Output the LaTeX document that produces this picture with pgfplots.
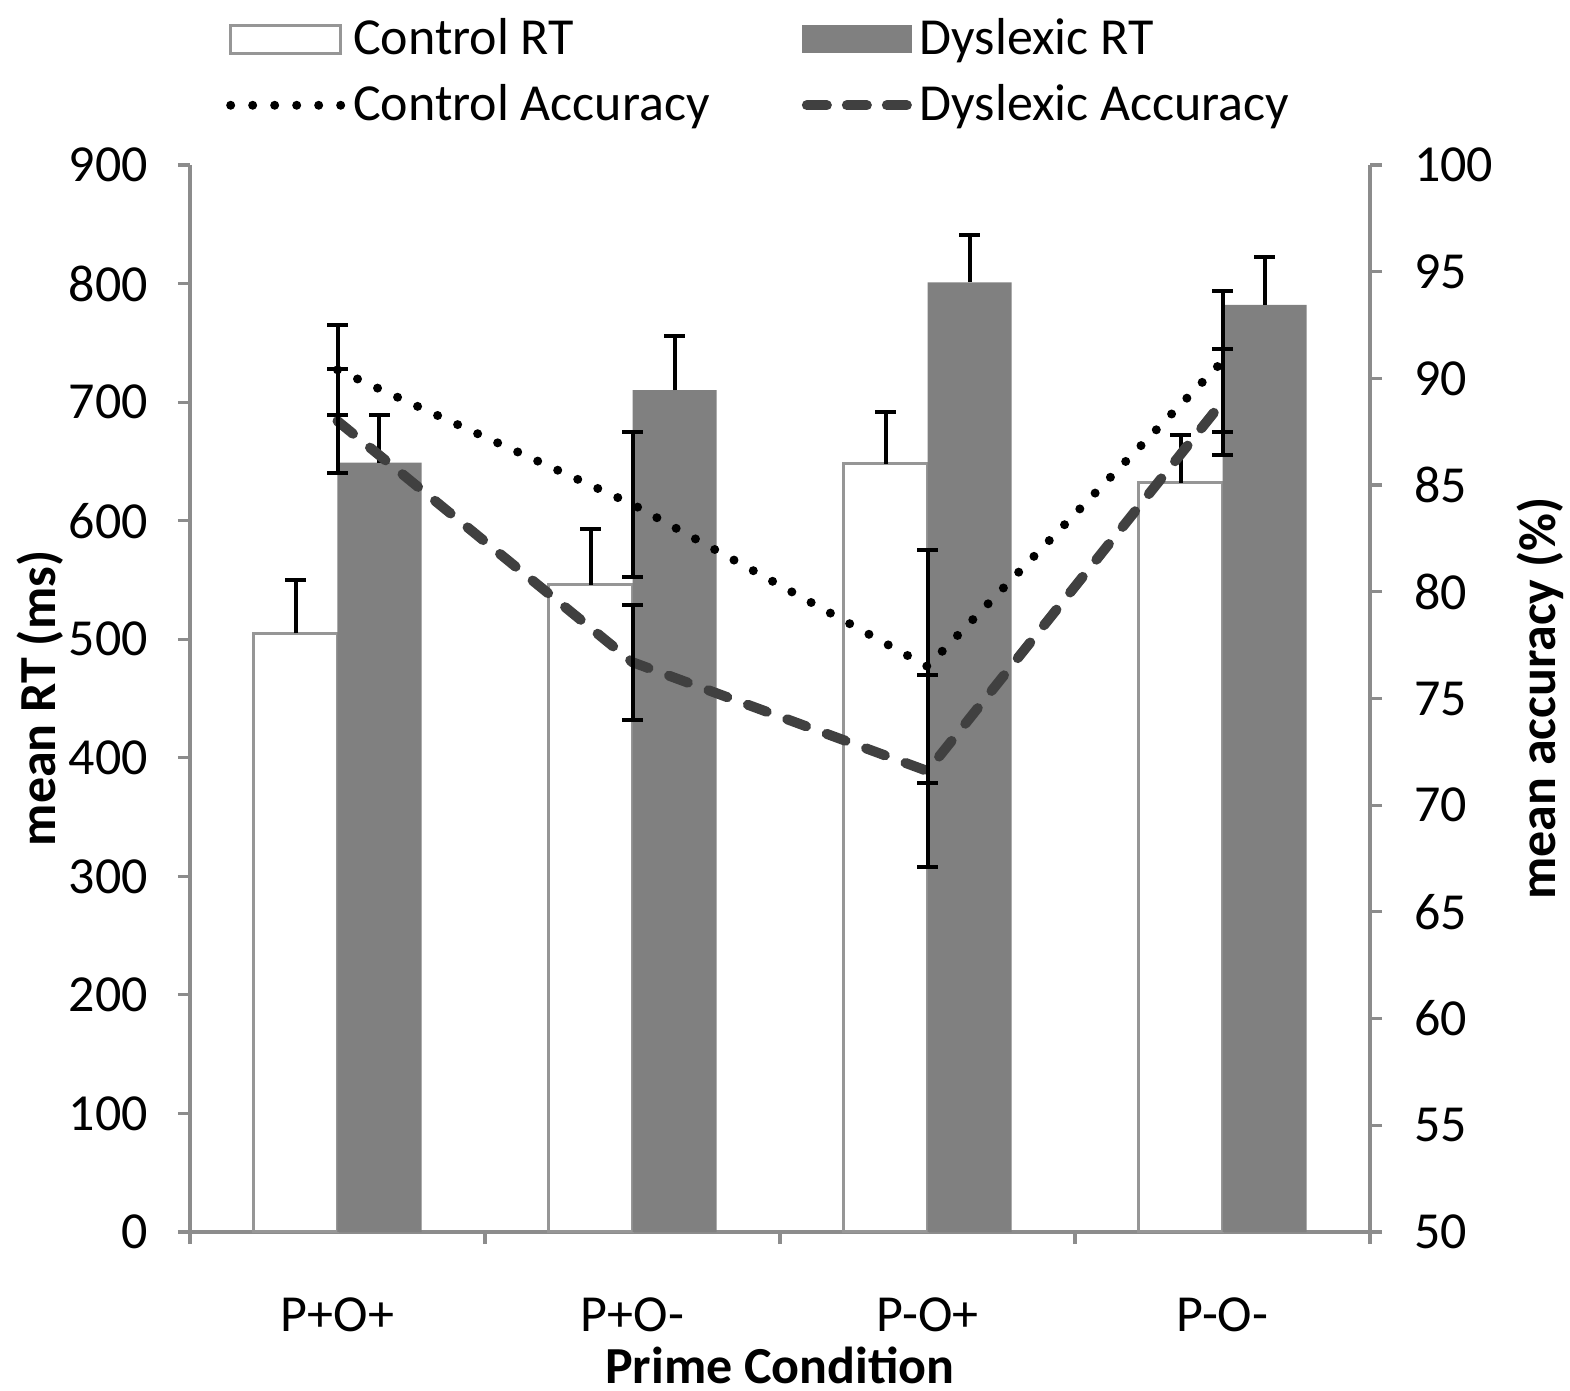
\documentclass[border=0pt]{standalone}
\usepackage{fontspec}
\setmainfont{Carlito}
\usepackage{pgfplots}
\usepackage{pgfplotstable}
\pgfplotsset{compat=1.18}

\definecolor{dysbar}{RGB}{128,128,128}
\definecolor{ctrledge}{RGB}{150,150,150}
\definecolor{dysline}{RGB}{64,64,64}
\definecolor{axgray}{RGB}{140,140,140}

\pgfplotstableread{
x rt err
0 505 45
1 546 47
2 648 44
3 632 40
}\ctrlrt
\pgfplotstableread{
x rt err
0 649 40
1 710 46
2 801 40
3 782 40
}\dysrt
\pgfplotstableread{
x acc err
0 90.4 2.1
1 84.1 3.4
2 76.5 5.45
3 90.8 3.3
}\ctrlacc
\pgfplotstableread{
x acc err
0 88.0 2.45
1 76.7 2.7
2 71.6 4.5
3 88.9 2.5
}\dysacc

\pgfplotsset{
  every axis/.append style={font=\fontsize{13}{15}\selectfont},
  commonax/.style={
    scale only axis, width=295pt, height=266.75pt,
    xmin=-0.5, xmax=3.5,
    axis line style={axgray, line width=0.8pt},
    tick style={axgray, line width=0.8pt},
    tick align=outside, major tick length=3pt,
    /pgf/number format/assume math mode=true,
    ticklabel style={font=\fontsize{13}{15}\selectfont},
  },
  errstyle/.style={
    /pgfplots/error bars/.cd, y dir=#1, y explicit,
    error bar style={solid, black, line width=1pt, line cap=butt},
    error mark options={solid, black, rotate=90, line width=1pt, mark size=2.6pt},
  },
}

\begin{document}
\begin{tikzpicture}
\useasboundingbox (-47.5pt,-39.5pt) rectangle (345pt,308pt);
\begin{axis}[
  commonax,
  ymin=0, ymax=900,
  ytick={0,100,...,900},
  xtick={-0.5,0.5,1.5,2.5,3.5},
  x tick label as interval,
  xticklabels={P+O+,P+O-,P-O+,P-O-},
  xticklabel style={yshift=-10pt},
  yticklabel style={xshift=-4pt},
  axis lines*=left,
  xlabel={\bfseries Prime Condition},
  ylabel={\bfseries mean RT (ms)},
  x label style={at={(axis description cs:0.5,-0.1246)}, anchor=center},
  y label style={at={(axis description cs:-0.127,0.5)}, anchor=center},
  legend columns=2,
  legend cell align=left,
  legend style={at={(0.0198,1.1534)}, anchor=north west, draw=none, fill=none,
    font=\fontsize{13}{15}\selectfont, row sep=2pt,
    /tikz/every even column/.append style={column sep=21pt}},
]
\addplot[ybar, bar width=21pt, bar shift=0pt, fill=white, draw=ctrledge, line width=0.8pt,
  legend image code/.code={\draw[fill=white, draw=ctrledge, line width=0.8pt] (0pt,-3.5pt) rectangle (27.5pt,3.5pt);},
  errstyle=plus]
  table[x expr=\thisrow{x}-0.14237, y=rt, y error=err]{\ctrlrt};
\addlegendentry{Control RT}
\addplot[ybar, bar width=21pt, bar shift=0pt, fill=dysbar, draw=none,
  legend image code/.code={\fill[dysbar] (0pt,-3.5pt) rectangle (27.5pt,3.5pt);},
  errstyle=plus]
  table[x expr=\thisrow{x}+0.14237, y=rt, y error=err]{\dysrt};
\addlegendentry{Dyslexic RT}
\addlegendimage{legend image code/.code={\draw[black, line width=2.25pt, line cap=round, dash pattern=on 0pt off 5.5pt] (0pt,0pt) -- (27.5pt,0pt);}}
\addlegendentry{Control Accuracy}
\addlegendimage{legend image code/.code={\draw[dysline, line width=2.5pt, line cap=round, dash pattern=on 5pt off 5pt] (1.25pt,0pt) -- (26.25pt,0pt);}}
\addlegendentry{Dyslexic Accuracy}
\end{axis}
\begin{axis}[
  commonax,
  ymin=50, ymax=100,
  ytick={50,55,...,100},
  axis y line*=right, axis x line=none,
  yticklabel style={xshift=4.5pt},
  ylabel={\bfseries mean accuracy (\%)},
  y label style={at={(axis description cs:1.144,0.5)}, anchor=center, rotate=0},
]
\addplot[black, line width=2.25pt, line cap=round, dash pattern=on 0pt off 5.5pt,
  errstyle=both]
  table[x=x, y=acc, y error=err]{\ctrlacc};
\addplot[dysline, line width=2.5pt, line cap=round, dash pattern=on 5pt off 5.5pt,
  errstyle=both]
  table[x=x, y=acc, y error=err]{\dysacc};
\end{axis}
\end{tikzpicture}
\end{document}
